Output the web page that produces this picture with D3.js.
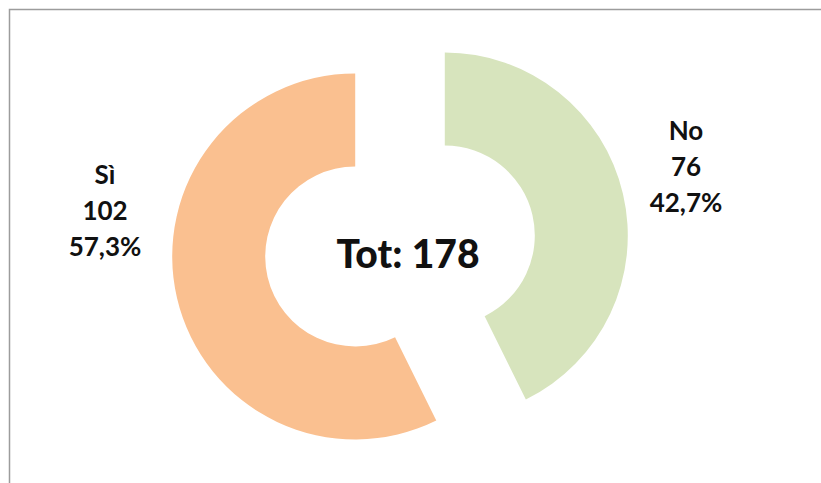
<!DOCTYPE html>
<html>
<head>
<meta charset="utf-8">
<script src="https://cdn.jsdelivr.net/npm/d3@7"></script>
<style>
  body { margin: 0; background: #fff; }
  svg { display: block; font-family: Lato, "Open Sans", sans-serif; }
</style>
</head>
<body>
<svg id="chart"></svg>
<script>
// data
const categories = ['No', 'Sì'];
const values = [76, 102];
const percents = ['42,7%', '57,3%'];
const colors = ['#d7e4bd', '#fac090'];
const totalLabel = 'Tot: 178';

const width = 821, height = 483;
const cx = 400, cy = 246;
const outerR = 183, innerR = 90, explode = 46;

const svg = d3.select('#chart')
    .attr('width', width)
    .attr('height', height);

// chart frame (only top/left visible in the crop)
svg.append('rect')
    .attr('x', 9.5).attr('y', 9.5)
    .attr('width', 900).attr('height', 600)
    .attr('fill', 'none')
    .attr('stroke', '#9c9c9c')
    .attr('stroke-width', 1.5);

const pie = d3.pie().sort(null).value(d => d.value);
const arc = d3.arc().innerRadius(innerR).outerRadius(outerR);

const data = categories.map((c, i) => ({ name: c, value: values[i], pct: percents[i], color: colors[i] }));
const arcs = pie(data);

const g = svg.append('g')
    .attr('transform', `translate(${cx}, ${cy})`);

g.selectAll('path')
    .data(arcs)
    .join('path')
    .attr('d', arc)
    .attr('fill', d => d.data.color)
    .attr('transform', d => {
        const mid = (d.startAngle + d.endAngle) / 2;
        return `translate(${Math.sin(mid) * explode}, ${-Math.cos(mid) * explode})`;
    });

// center total
svg.append('text')
    .attr('x', cx + 8)
    .attr('y', 268)
    .attr('text-anchor', 'middle')
    .style('font-size', '39px')
    .style('font-weight', '900')
    .attr('fill', '#111')
    .text(totalLabel);

// data labels
const labelPos = [ {x: 686, y: 140}, {x: 105, y: 184} ];
const lineGap = 36;

arcs.forEach((d, i) => {
    const lines = [d.data.name, d.data.value, d.data.pct];
    const t = svg.append('text')
        .attr('text-anchor', 'middle')
        .style('font-size', '26px')
        .style('font-weight', 'bold')
        .attr('fill', '#111');
    lines.forEach((l, j) => {
        t.append('tspan')
            .attr('x', labelPos[i].x)
            .attr('y', labelPos[i].y + j * lineGap)
            .text(l);
    });
});
</script>
</body>
</html>
